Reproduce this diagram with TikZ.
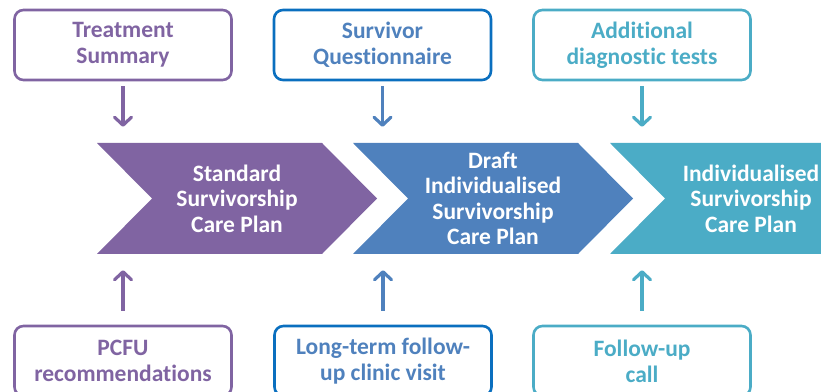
\documentclass[tikz,border=0pt]{standalone}
\usepackage{fontspec}
\setmainfont{Carlito}[Ligatures=NoCommon]
\usetikzlibrary{arrows.meta,calc}
\definecolor{spurple}{HTML}{8064A2}
\definecolor{sblue}{HTML}{4F81BD}
\definecolor{sblueline}{HTML}{0A6FBF}
\definecolor{saqua}{HTML}{4BACC6}

\begin{document}
\begin{tikzpicture}[x=1pt,y=1pt, >={Straight Barb[length=8pt,width=17pt,round]},
  src/.style={draw,rounded corners=9pt,line width=2.6pt,minimum width=217pt,minimum height=70pt,
    align=center,font=\fontsize{23.5}{26}\selectfont\bfseries},
  plan/.style={minimum height=111pt,align=center,text=white,font=\fontsize{23.5}{25.5}\selectfont\bfseries},
  feed/.style={->,line width=3.2pt}]
  \clip (0,0) rectangle (821,391);
  % the three stages of the care plan
  \foreach \x/\col in {237/spurple,493/sblue,750/saqua}
    \fill[\col] (\x-140,248) -- ++(225,0) -- ++(55,-55.5) -- ++(-55,-55.5) -- ++(-225,0) -- ++(55,55.5) -- cycle;
  \node[plan] (c1) at (237,192.5) {Standard\\Survivorship\\Care Plan};
  \node[plan] (c2) at (493,192.5) {Draft\\Individualised\\Survivorship\\Care Plan};
  \node[plan] (c3) at (751,192.5) {Individualised\\Survivorship\\Care Plan};
  % inputs above
  \node[src,spurple] (t1) at (123,346) {Treatment\\Summary};
  \node[src,sblueline,text=sblue] (t2) at (382.5,346) {Survivor\\Questionnaire};
  \node[src,saqua] (t3) at (642,346) {Additional\\diagnostic tests};
  % inputs below
  \node[src,spurple] (b1) at (123,30) {PCFU\\recommendations};
  \node[src,sblueline,text=sblue] (b2) at (383,30) {Long-term follow-\\up clinic visit};
  \node[src,saqua] (b3) at (642,30) {Follow-up\\call};
  \foreach \i/\col in {1/spurple,2/sblue,3/saqua} {
    \draw[feed,\col,shorten <=5pt,shorten >=16pt] (t\i.south) -- (t\i.south |- c\i.north);
    \draw[feed,\col,shorten <=14pt,shorten >=16pt] (b\i.north) -- (b\i.north |- c\i.south);
  }
\end{tikzpicture}
\end{document}
